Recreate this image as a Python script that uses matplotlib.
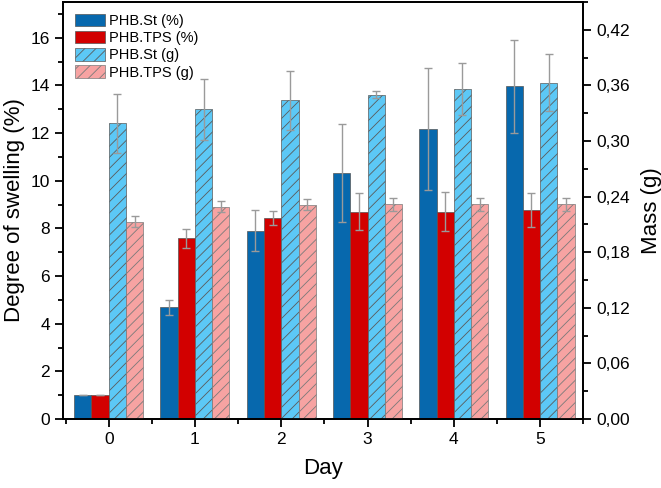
import matplotlib
matplotlib.use("Agg")
import matplotlib.pyplot as plt
from matplotlib.ticker import MultipleLocator, FuncFormatter
import numpy as np

plt.rcParams['font.family'] = ['Liberation Sans', 'DejaVu Sans']
plt.rcParams['hatch.linewidth'] = 0.6

days = [0, 1, 2, 3, 4, 5]

# degree of swelling (%)
st_pct = [1.0, 4.68, 7.91, 10.31, 12.17, 13.96]
st_pct_err = [0.0, 0.33, 0.84, 2.06, 2.54, 1.95]
tps_pct = [1.0, 7.58, 8.43, 8.70, 8.70, 8.77]
tps_pct_err = [0.0, 0.39, 0.30, 0.77, 0.82, 0.73]

# mass (g)
st_g = [0.319, 0.334, 0.344, 0.350, 0.356, 0.363]
st_g_err = [0.032, 0.033, 0.032, 0.004, 0.028, 0.031]
tps_g = [0.213, 0.229, 0.231, 0.2315, 0.2315, 0.2315]
tps_g_err = [0.006, 0.006, 0.006, 0.007, 0.007, 0.007]

c_st = '#0768ad'
c_tps = '#d20000'
c_st_g = '#5cc8f6'
c_tps_g = '#f7a3a2'
err_col = '#9a9a9a'

x = np.array(days)
w = 0.2

fig = plt.figure(figsize=(6.61, 4.88), dpi=100)
ax = fig.add_axes([0.0953, 0.1414, 0.787, 0.8545])
ax2 = ax.twinx()

ekw = dict(ecolor=err_col, elinewidth=1, capsize=3, capthick=1)

b1 = ax.bar(x - 1.5 * w, st_pct, w, color=c_st, edgecolor='#555555', linewidth=0.5,
            yerr=st_pct_err, error_kw=ekw, label='PHB.St (%)')
b2 = ax.bar(x - 0.5 * w, tps_pct, w, color=c_tps, edgecolor='#555555', linewidth=0.5,
            yerr=tps_pct_err, error_kw=ekw, label='PHB.TPS (%)')
b3 = ax2.bar(x + 0.5 * w, st_g, w, color=c_st_g, edgecolor='#5a5a5a', linewidth=0.5,
             hatch='///', yerr=st_g_err, error_kw=ekw, label='PHB.St (g)')
b4 = ax2.bar(x + 1.5 * w, tps_g, w, color=c_tps_g, edgecolor='#7a7a7a', linewidth=0.5,
             hatch='///', yerr=tps_g_err, error_kw=ekw, label='PHB.TPS (g)')

ax.set_xlim(-0.53, 5.5)
ax.set_ylim(0, 17.5)
ax2.set_ylim(0, 0.45)

ax.set_xticks(days)
ax.xaxis.set_minor_locator(MultipleLocator(0.5))
ax.yaxis.set_major_locator(MultipleLocator(2))
ax.yaxis.set_minor_locator(MultipleLocator(1))
ax2.yaxis.set_major_locator(MultipleLocator(0.06))
ax2.yaxis.set_minor_locator(MultipleLocator(0.03))
ax2.yaxis.set_major_formatter(FuncFormatter(lambda v, p: f"{v:.2f}".replace('.', ',')))

for a in (ax, ax2):
    a.tick_params(which='major', direction='out', length=6, width=1.3, labelsize=12.5)
    a.tick_params(which='minor', direction='out', length=3.5, width=1.3)
    for s in a.spines.values():
        s.set_linewidth(1.3)

ax.set_xlabel('Day', fontsize=16, labelpad=8)
ax.set_ylabel('Degree of swelling (%)', fontsize=16)
ax2.set_ylabel('Mass (g)', fontsize=16, labelpad=8)

ax.legend(handles=[b1, b2, b3, b4], loc='upper left', frameon=False, fontsize=10.5,
          handlelength=2.1, handleheight=0.95, handletextpad=0.27, labelspacing=0.2,
          borderaxespad=0.4, bbox_to_anchor=(0.0, 1.0))

fig.savefig('out.png', dpi=100)
